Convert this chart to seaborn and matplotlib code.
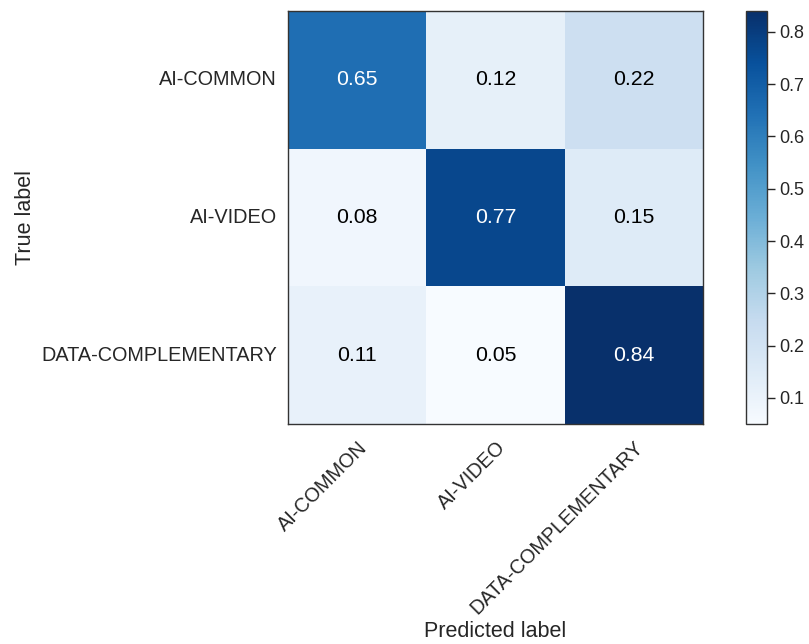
import numpy as np
import pandas as pd
import matplotlib
matplotlib.use("Agg")
import matplotlib.pyplot as plt
import seaborn as sns

# Normalised confusion matrix (rows: true class, columns: predicted class)
classes = ["AI-COMMON", "AI-VIDEO", "DATA-COMPLEMENTARY"]
row_ai_common = [0.65, 0.12, 0.22]
row_ai_video = [0.08, 0.77, 0.15]
row_data_comp = [0.11, 0.05, 0.84]
cbar_ticks = [0.1, 0.2, 0.3, 0.4, 0.5, 0.6, 0.7, 0.8]

cm = pd.DataFrame([row_ai_common, row_ai_video, row_data_comp],
                  index=classes, columns=classes)

sns.set_theme(style="white")
plt.rcParams["font.family"] = ["Liberation Sans", "DejaVu Sans"]

fig = plt.figure(figsize=(8.09, 6.44), dpi=100)
ax = fig.add_axes([0.356, 0.3416, 0.513, 0.6413])
cax = fig.add_axes([0.922, 0.3416, 0.026, 0.6413])

sns.heatmap(cm, ax=ax, cbar_ax=cax, cmap="Blues", annot=False,
            vmin=cm.values.min(), vmax=cm.values.max(), square=False)

# Cell annotations: white on dark cells, black on light ones
thresh = cm.values.max() / 2.0
for i in range(cm.shape[0]):
    for j in range(cm.shape[1]):
        v = cm.values[i, j]
        ax.text(j + 0.5, i + 0.5, f"{v:.2f}", ha="center", va="center",
                fontsize=15.3, color="white" if v > thresh else "black")

for s in ax.spines.values():
    s.set_visible(True)
    s.set_color("#333333")
    s.set_linewidth(1.0)

ax.tick_params(axis="both", length=0, labelsize=14.3, labelcolor="#262626")
ax.tick_params(axis="y", pad=8)
ax.tick_params(axis="x", pad=10)
ax.set_xticklabels(classes, rotation=45, ha="right", rotation_mode="anchor")
ax.set_yticklabels(classes, rotation=0)
ax.set_xlabel("Predicted label", fontsize=15.5, color="#262626", labelpad=2)
ax.set_ylabel("True label", fontsize=15.5, color="#262626", labelpad=4)

cbar = ax.collections[0].colorbar
cbar.set_ticks(cbar_ticks)
cax.tick_params(axis="y", right=True, length=5.5, width=1, labelsize=13,
                labelcolor="#262626", color="#262626")
cbar.outline.set_visible(True)
cbar.outline.set_edgecolor("#333333")
cbar.outline.set_linewidth(1.0)

fig.savefig("out.png", dpi=100)
